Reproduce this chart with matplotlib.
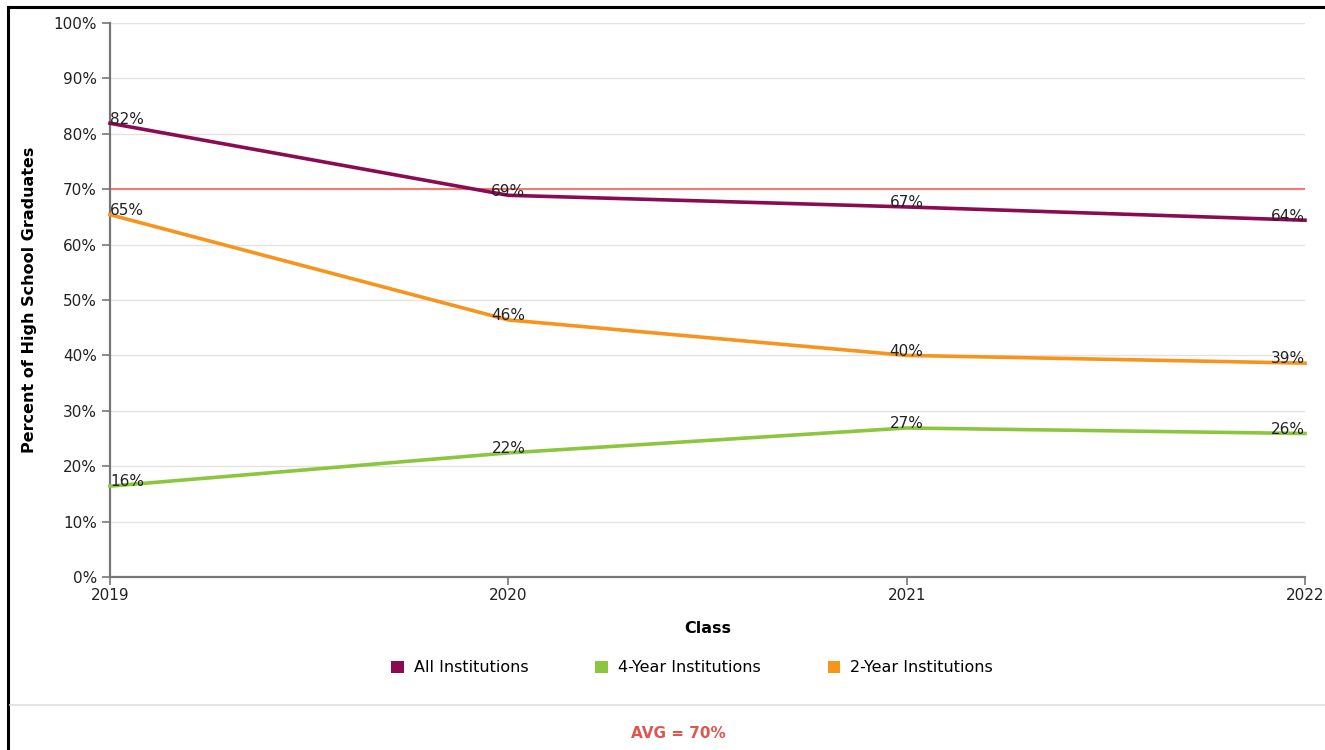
import matplotlib.pyplot as plt
from matplotlib.lines import Line2D
from matplotlib.patches import Patch

years = [2019, 2020, 2021, 2022]
all_inst = [81.9, 68.9, 66.8, 64.4]
four_year = [16.4, 22.4, 26.9, 25.9]
two_year = [65.4, 46.4, 40.0, 38.6]
avg_value = 70
y_ticks = list(range(0, 101, 10))

series = [
    ("All Institutions", all_inst, "#8a0b52"),
    ("4-Year Institutions", four_year, "#8cc63f"),
    ("2-Year Institutions", two_year, "#f7941d"),
]

W, H = 1325, 750
fig = plt.figure(figsize=(W / 100, H / 100), dpi=100)
fig.patch.set_facecolor("white")

# plot area in pixel coords of the reference
x0, x1, y_top, y_bot = 110, 1305, 23, 577
ax = fig.add_axes([x0 / W, 1 - y_bot / H, (x1 - x0) / W, (y_bot - y_top) / H])

ax.set_xlim(years[0], years[-1])
ax.set_ylim(0, 100)
ax.set_xticks(years)
ax.set_yticks(y_ticks)
ax.set_yticklabels([f"{t}%" for t in y_ticks])
ax.yaxis.grid(True, color="#e3e3e3", linewidth=1)
ax.set_axisbelow(True)
for s in ["top", "right"]:
    ax.spines[s].set_visible(False)
for s in ["left", "bottom"]:
    ax.spines[s].set_color("#777777")
    ax.spines[s].set_linewidth(1.6)
ax.tick_params(axis="both", colors="#777777", labelcolor="#222222", labelsize=11,
               length=6, width=1.2)
ax.tick_params(axis="x", pad=2)

# average line
ax.axhline(avg_value, color="#f07a74", linewidth=1.5, zorder=2)

for name, vals, col in series:
    ax.plot(years, vals, color=col, linewidth=2.6, zorder=3, clip_on=False)
    for i, (x, v) in enumerate(zip(years, vals)):
        ha = "left" if i == 0 else ("right" if i == len(years) - 1 else "center")
        ax.annotate(f"{v:.0f}%", (x, v), xytext=(0, 3), textcoords="offset points",
                    ha=ha, va="center", fontsize=11, color="#222222", zorder=4)

ax.set_ylabel("Percent of High School Graduates", fontsize=11.5, fontweight="bold",
              labelpad=12)
ax.set_xlabel("Class", fontsize=11.5, fontweight="bold", labelpad=13)

handles = [Patch(facecolor=c, edgecolor="none") for _, _, c in series]
fig.legend(handles, [n for n, _, _ in series], loc="center", ncol=3,
           bbox_to_anchor=(692 / W, 1 - 668 / H), frameon=False, fontsize=11.5,
           handlelength=0.8, handleheight=0.8, handletextpad=0.6, columnspacing=4.2)

# frame and separator
fig.add_artist(Line2D([8 / W, 8 / W], [0, 1 - 7 / H], color="black", linewidth=2.2))
fig.add_artist(Line2D([8 / W, 1], [1 - 7 / H, 1 - 7 / H], color="black", linewidth=2.2))
fig.add_artist(Line2D([10 / W, 1], [1 - 705 / H, 1 - 705 / H], color="#e0e0e0", linewidth=1.2))

fig.text(678 / W, 1 - 733 / H, f"AVG = {avg_value}%", ha="center", va="center",
         fontsize=11, fontweight="bold", color="#e0564e")

fig.savefig("out.png", dpi=100)
